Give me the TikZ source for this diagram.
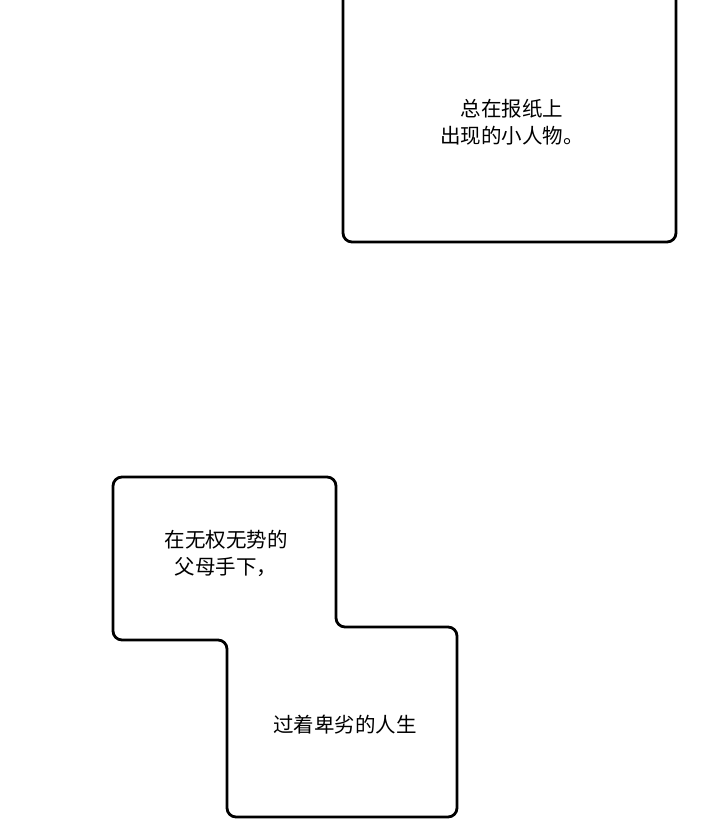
\documentclass[tikz,border=0pt]{standalone}
\usepackage{fontspec}
\newfontfamily\cjk{Noto Sans CJK SC}
\begin{document}
\begin{tikzpicture}[x=1pt,y=1pt,
  box/.style={draw=black,line width=2.8pt,rounded corners=9pt,fill=white},
  txt/.style={font=\cjk\fontsize{20.5}{27}\selectfont,align=center}]
\useasboundingbox (0,0) rectangle (720,825);
\draw[box] (343,840) -- (343,583) -- (676,583) -- (676,840);
\node[txt] (t1) at (512,703) {总在报纸上\\出现的小人物。};
\draw[box] (113,348) -- (336,348) -- (336,198) -- (457,198) -- (457,8) -- (227,8) -- (227,185) -- (113,185) -- cycle;
\node[txt] (t2) at (226,272) {在无权无势的\\父母手下，};
\node[txt] (t3) at (345,100) {过着卑劣的人生};
\end{tikzpicture}
\end{document}
